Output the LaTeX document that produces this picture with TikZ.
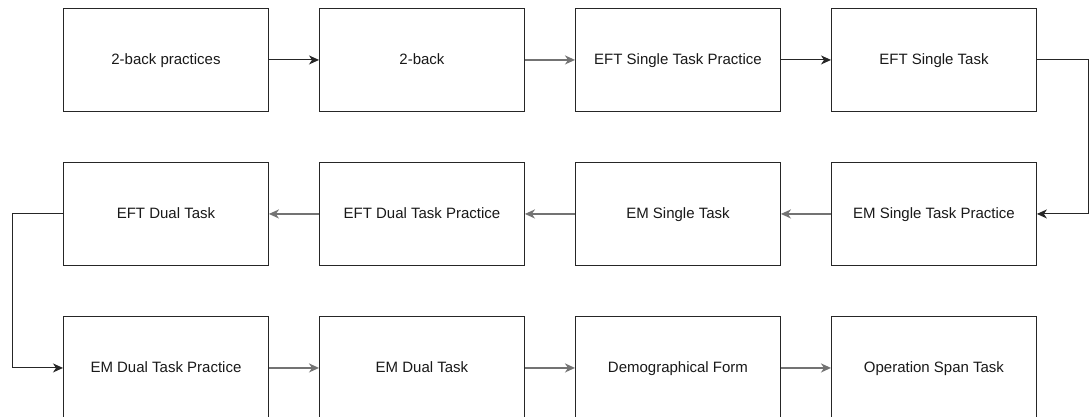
\documentclass[tikz,border=0pt]{standalone}
\usepackage{fontspec}
\setmainfont{Liberation Sans}
\usetikzlibrary{arrows.meta}
\begin{document}
\begin{tikzpicture}[x=1pt,y=-1pt,
  stepbox/.style={draw=black!85, line width=0.9pt, minimum width=205pt, minimum height=103pt,
    inner sep=0pt, text height=11pt, text depth=2pt, font=\fontsize{15}{18}\selectfont,
    text=black!90, anchor=north west},
  tip/.style={-{Stealth[length=10pt,width=9pt,inset=3pt]}},
  flow/.style={draw=black!85, line width=1pt, tip},
  flowgray/.style={draw=black!55, line width=1.5pt, tip}]
\useasboundingbox[fill=white] (0,0) rectangle (1089,417);
% first row
\node[stepbox] (a1) at (63,8)  {2-back practices};
\node[stepbox] (a2) at (319,8) {2-back};
\node[stepbox] (a3) at (575,8) {EFT Single Task Practice};
\node[stepbox] (a4) at (831,8) {EFT Single Task};
% second row (runs right to left)
\node[stepbox] (b1) at (831,162) {EM Single Task Practice};
\node[stepbox] (b2) at (575,162) {EM Single Task};
\node[stepbox] (b3) at (319,162) {EFT Dual Task Practice};
\node[stepbox] (b4) at (63,162)  {EFT Dual Task};
% third row
\node[stepbox] (c1) at (63,316)  {EM Dual Task Practice};
\node[stepbox] (c2) at (319,316) {EM Dual Task};
\node[stepbox] (c3) at (575,316) {Demographical Form};
\node[stepbox] (c4) at (831,316) {Operation Span Task};
% connectors
\draw[flow] (a1) -- (a2);
\draw[flowgray] (a2) -- (a3);
\draw[flow] (a3) -- (a4);
\draw[flow] (a4.east) -- ++(52,0) |- (b1.east);
\draw[flowgray] (b1) -- (b2);
\draw[flowgray] (b2) -- (b3);
\draw[flowgray] (b3) -- (b4);
\draw[flow] (b4.west) -- ++(-51,0) |- (c1.west);
\draw[flowgray] (c1) -- (c2);
\draw[flowgray] (c2) -- (c3);
\draw[flowgray] (c3) -- (c4);
\end{tikzpicture}
\end{document}
